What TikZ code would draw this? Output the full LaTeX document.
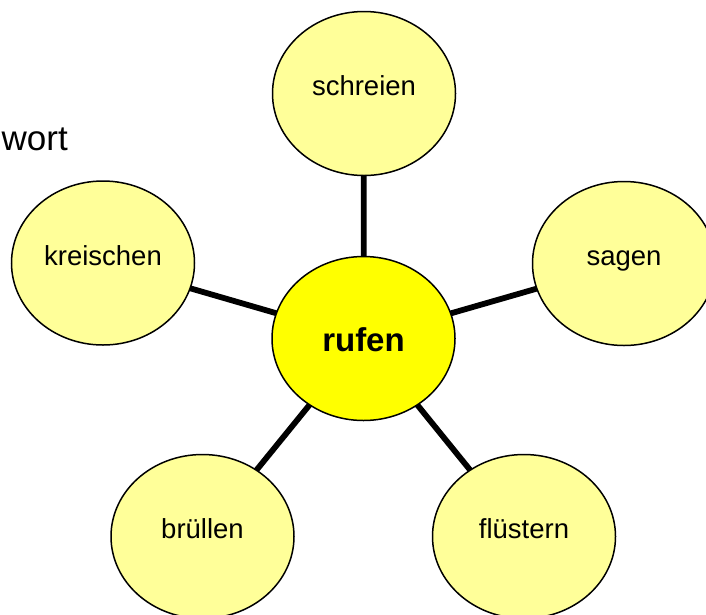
\documentclass[tikz,border=0pt]{standalone}
\usepackage{fontspec}
\setmainfont{Liberation Sans}
\usetikzlibrary{shapes.geometric,backgrounds}
\definecolor{paleyellow}{HTML}{FFFF99}
\definecolor{hubyellow}{HTML}{FFFF00}
\tikzset{
  bubble/.style={ellipse, draw=black, line width=1.5pt, fill=paleyellow,
    minimum width=183pt, minimum height=164pt, inner sep=0pt,
    font=\fontsize{27.5pt}{30pt}\selectfont, text height=4pt, text depth=0pt},
  hub/.style={bubble, fill=hubyellow,
    font=\fontsize{33pt}{36pt}\selectfont\bfseries, text height=25pt},
  spoke/.style={line width=5.8pt, draw=black}
}
\begin{document}
\begin{tikzpicture}[x=1pt, y=-1pt]
  \useasboundingbox (0,0) rectangle (706,614);
  \clip (0,0) rectangle (706,614);
  \node[anchor=base west, inner sep=0pt, font=\fontsize{35pt}{38pt}\selectfont] (title) at (1.5,150) {wort};
  \node[hub] (rufen) at (363.5,338.5) {rufen};
  \node[bubble] (schreien) at (364,93.5) {schreien};
  \node[bubble] (sagen) at (624,263.5) {sagen};
  \node[bubble] (kreischen) at (103,263) {kreischen};
  \node[bubble] (bruellen) at (202.5,536.5) {brüllen};
  \node[bubble] (fluestern) at (524,536.5) {flüstern};
  \begin{scope}[on background layer]
    \foreach \n in {schreien,sagen,kreischen,bruellen,fluestern}
      \draw[spoke] (rufen.center) -- (\n.center);
  \end{scope}
\end{tikzpicture}
\end{document}
